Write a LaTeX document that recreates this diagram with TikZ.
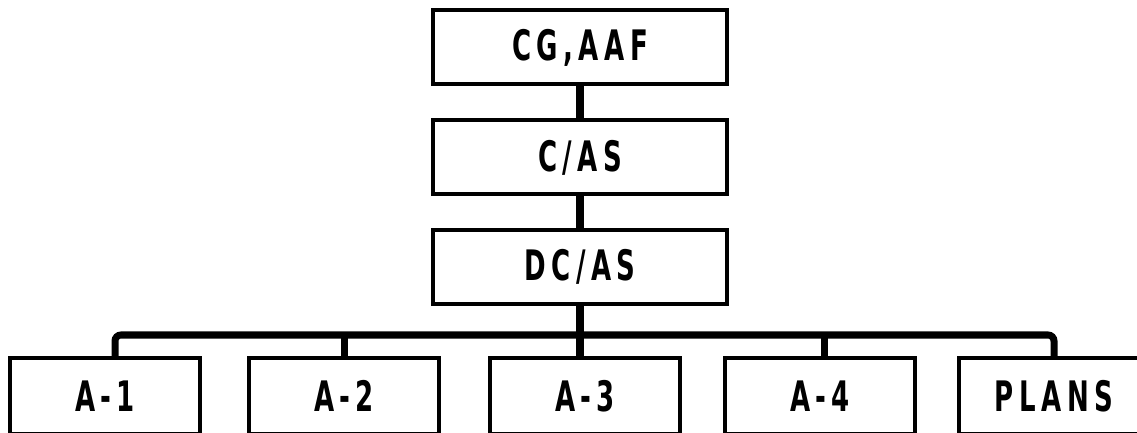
\documentclass[tikz,border=0pt]{standalone}
\usepackage{fontspec}
\newfontfamily\labfont[FakeStretch=0.62,LetterSpace=13]{DejaVu Sans}
\begin{document}
\begin{tikzpicture}[x=0.5pt,y=-0.5pt,
  orgbox/.style={draw=black,line width=2pt,fill=white,inner sep=0pt,outer sep=0pt,
    font=\labfont\bfseries\fontsize{21}{23}\selectfont},
  topbox/.style={orgbox,minimum width=147pt,minimum height=37pt},
  lowbox/.style={orgbox,minimum width=95pt,minimum height=38pt,anchor=north},
  trunk/.style={line width=4pt},
  bus/.style={line width=3.5pt,rounded corners=3pt}]
\clip (0,0) rectangle (1137,433);
\fill[white] (0,0) rectangle (1137,433);
% top chain
\node[topbox] (cg)   at (580,47.5) {CG,AAF};
\node[topbox] (cas)  at (580,157.5) {C/AS};
\node[topbox] (dcas) at (580,267) {DC/AS};
% bottom row
\node[lowbox] (a1) at (105,358) {A-1};
\node[lowbox] (a2) at (344,358) {A-2};
\node[lowbox] (a3) at (585,358) {A-3};
\node[lowbox] (a4) at (820,358) {A-4};
\node[lowbox] (pl) at (1054,358) {PLANS};
% connectors
\coordinate (busy) at (0,335);
\draw[trunk] (cg.south) -- (cas.north);
\draw[trunk] (cas.south) -- (dcas.north);
\draw[trunk] (dcas.south) -- (dcas.south |- a3.north);
\draw[bus] ([xshift=5]a1.north) |- (busy -| pl.north) -- (pl.north);
\draw[bus] (a2.north) -- (a2.north |- busy);
\draw[bus] ([xshift=2]a4.north) -- ([xshift=2]a4.north |- busy);
\end{tikzpicture}
\end{document}
